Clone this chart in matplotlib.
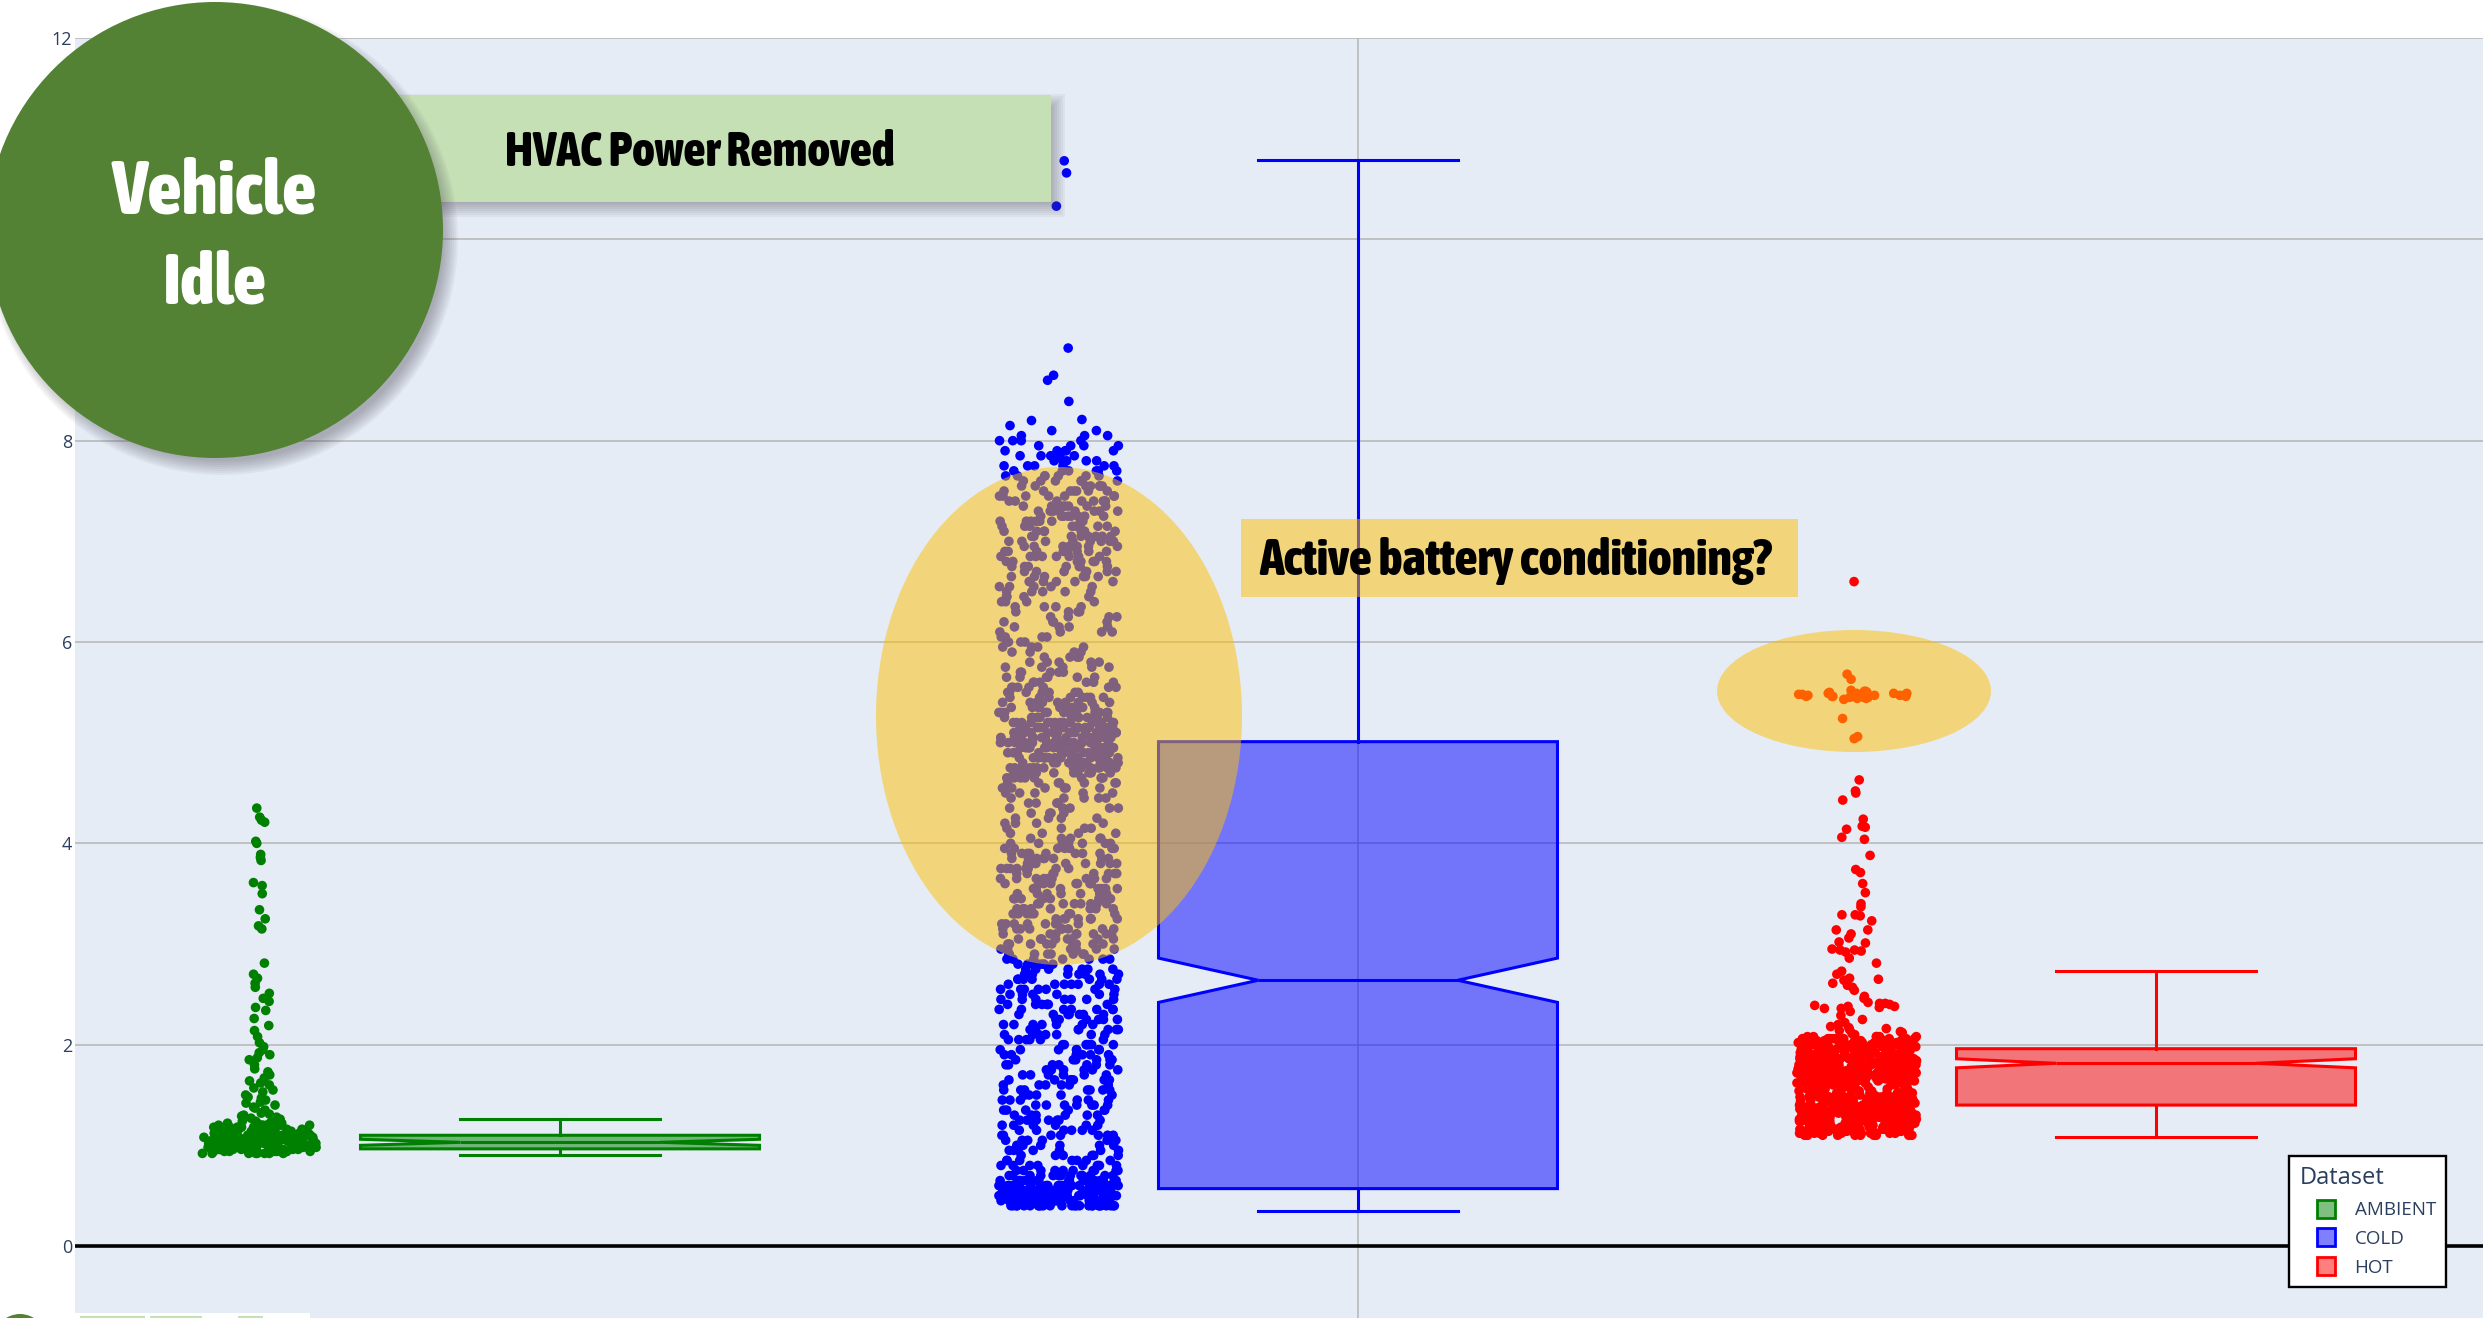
import numpy as np
import matplotlib
matplotlib.use("Agg")
import matplotlib.pyplot as plt
from matplotlib.patches import Circle, Rectangle, Ellipse, Patch
from matplotlib.legend_handler import HandlerPatch
from matplotlib import font_manager as fm
from matplotlib.font_manager import FontProperties
from matplotlib.colors import to_rgba

# ---------------- data ----------------
categories = ['AMBIENT', 'COLD', 'HOT']
box_colors = ['#008000', '#0000FF', '#FF0000']
q1 = [0.965, 0.57, 1.40]
median = [1.03, 2.64, 1.815]
q3 = [1.10, 5.01, 1.96]
whisker_low = [0.90, 0.35, 1.08]
whisker_high = [1.26, 10.79, 2.73]
notch_low = [1.00, 2.42, 1.77]
notch_high = [1.06, 2.86, 1.86]

# sparse points (individually visible)
ambient_points = [
    4.35, 4.26, 4.23, 4.21, 4.02, 4.00, 3.89, 3.86, 3.83, 3.61, 3.58, 3.50, 3.34, 3.25, 3.18, 3.15,
    2.81, 2.70, 2.66, 2.61, 2.57, 2.51, 2.46, 2.43, 2.37, 2.34, 2.26, 2.19, 2.14, 2.08, 2.02, 1.98,
    1.95, 1.92, 1.90, 1.87, 1.85, 1.80, 1.76, 1.73, 1.70, 1.67, 1.64, 1.62, 1.60, 1.57, 1.55, 1.53,
    1.50, 1.48, 1.47, 1.45, 1.43, 1.42, 1.40, 1.38, 1.37, 1.35, 1.34, 1.32, 1.31, 1.30, 1.29, 1.28,
    1.27, 1.26,
]
cold_points = [10.78, 10.66, 10.33, 8.92, 8.65, 8.60, 8.39, 8.21, 8.20, 8.15]
hot_points = [
    6.60, 5.68, 5.63, 5.52, 5.51, 5.51, 5.50, 5.50, 5.49, 5.49, 5.49, 5.48, 5.48, 5.48, 5.47, 5.47,
    5.47, 5.47, 5.46, 5.46, 5.46, 5.45, 5.45, 5.45, 5.44, 5.44, 5.43, 5.48, 5.47, 5.46, 5.49, 5.24,
    5.06, 5.04,
    4.63, 4.52, 4.50, 4.43, 4.24, 4.17, 4.16, 4.14, 4.06, 4.04, 3.88, 3.74, 3.71, 3.60, 3.51, 3.40,
    3.37, 3.29, 3.29, 3.28, 3.23, 3.14, 3.14, 3.10, 3.06, 3.02, 3.01, 2.94, 2.94, 2.92, 2.93, 2.95,
    2.86, 2.81, 2.73, 2.70, 2.66, 2.64, 2.65, 2.59, 2.61, 2.57, 2.54, 2.48, 2.46, 2.38, 2.41, 2.39,
    2.37, 2.40, 2.42, 2.41, 2.36, 2.38, 2.36, 2.33, 2.29, 2.25, 2.22, 2.20, 2.18, 2.17, 2.16, 2.15,
    2.14, 2.13, 2.12, 2.11, 2.10,
]

# dense parts: value levels and how many points sit at each level
ambient_dense_levels = [0.92, 0.94, 0.96, 0.98, 1.00, 1.02, 1.04, 1.06, 1.08, 1.10, 1.12, 1.14,
                        1.16, 1.18, 1.20, 1.22, 1.24]
ambient_dense_counts = [8, 14, 16, 16, 16, 16, 16, 16, 15, 14, 12, 10, 8, 7, 6, 5, 4]

cold_dense_levels = [
    0.40, 0.45, 0.50, 0.55, 0.60, 0.65, 0.70,
    0.75, 0.80, 0.85, 0.90, 0.95, 1.00, 1.05, 1.10, 1.15, 1.20, 1.25, 1.30, 1.35, 1.40, 1.45,
    1.50, 1.55, 1.60, 1.65, 1.70, 1.75, 1.80, 1.85, 1.90, 1.95, 2.00, 2.05, 2.10, 2.15, 2.20,
    2.25, 2.30, 2.35, 2.40, 2.45, 2.50, 2.55, 2.60, 2.65, 2.70, 2.75, 2.80, 2.85,
    2.90, 2.95, 3.00, 3.05, 3.10, 3.15, 3.20, 3.25, 3.30, 3.35, 3.40, 3.45, 3.50, 3.55, 3.60,
    3.65, 3.70, 3.75, 3.80, 3.85, 3.90, 3.95, 4.00,
    4.05, 4.10, 4.15, 4.20, 4.25, 4.30, 4.35, 4.40, 4.45, 4.50, 4.55, 4.60,
    4.65, 4.70, 4.75, 4.80, 4.85, 4.90, 4.95, 5.00, 5.05, 5.10, 5.15, 5.20, 5.25, 5.30, 5.35,
    5.40, 5.45, 5.50, 5.55, 5.60,
    5.65, 5.70, 5.75, 5.80, 5.85, 5.90, 5.95, 6.00, 6.05, 6.10, 6.15, 6.20, 6.25, 6.30, 6.35,
    6.40, 6.45, 6.50, 6.55, 6.60, 6.65,
    6.70, 6.75, 6.80, 6.85, 6.90, 6.95, 7.00, 7.05, 7.10, 7.15, 7.20, 7.25, 7.30, 7.35, 7.40,
    7.45, 7.50, 7.55, 7.60, 7.65,
    7.70, 7.75, 7.80, 7.85, 7.90, 7.95, 8.00, 8.05, 8.10,
]
cold_dense_counts = [
    26, 30, 30, 30, 28, 22, 14,
    10, 8, 7, 6, 7, 6, 6, 7, 6, 6, 7, 6, 6, 7, 6,
    6, 7, 6, 7, 6, 6, 7, 7, 6, 7, 7, 6, 7, 7, 7,
    6, 7, 7, 7, 7, 6, 7, 7, 7, 7, 7, 7, 7,
    8, 8, 9, 8, 8, 9, 8, 8, 9, 8, 8, 9, 8, 8, 8,
    9, 8, 8, 8, 8, 8, 7, 7,
    5, 4, 4, 4, 4, 4, 5, 4, 5, 5, 6, 7,
    10, 12, 14, 16, 18, 19, 20, 20, 20, 19, 18, 16, 14, 12, 10,
    9, 8, 7, 7, 6,
    6, 5, 5, 5, 4, 4, 4, 4, 4, 4, 4, 4, 4, 4, 4,
    4, 4, 5, 5, 6, 6,
    7, 7, 8, 8, 8, 8, 8, 8, 8, 8, 8, 8, 8, 8, 8,
    7, 7, 7, 7, 7,
    6, 6, 5, 5, 5, 4, 4, 3, 2,
]

hot_dense_levels = [
    1.10, 1.12, 1.14, 1.16, 1.18, 1.20, 1.22, 1.24, 1.26, 1.28, 1.30, 1.32, 1.34, 1.36, 1.38,
    1.40, 1.42, 1.44, 1.46, 1.48,
    1.50, 1.52, 1.54, 1.56, 1.58, 1.60,
    1.62, 1.64, 1.66, 1.68, 1.70, 1.72, 1.74, 1.76, 1.78, 1.80, 1.82, 1.84, 1.86, 1.88, 1.90,
    1.92, 1.94, 1.96, 1.98, 2.00, 2.02, 2.04, 2.06, 2.08,
]
hot_dense_counts = [
    10, 14, 14, 14, 14, 14, 14, 14, 14, 14, 14, 14, 14, 14, 14,
    14, 14, 14, 14, 14,
    10, 7, 6, 6, 7, 10,
    14, 14, 14, 14, 14, 14, 14, 14, 14, 14, 14, 14, 14, 14, 14,
    14, 14, 14, 14, 14, 14, 12, 10, 6,
]

y_ticks = [0, 2, 4, 6, 8, 10, 12]
legend_title = 'Dataset'
circle_lines = ['Vehicle', 'Idle']
hvac_label = 'HVAC Power Removed'
battery_label = 'Active battery conditioning?'

# ---------------- fonts ----------------
W, H, DPI = 2483, 1318, 100
avail = {f.name for f in fm.fontManager.ttflist}
UIF = 'Open Sans' if 'Open Sans' in avail else 'DejaVu Sans'
plt.rcParams['font.family'] = [UIF, 'DejaVu Sans']


def _wnum(w):
    if isinstance(w, (int, float)):
        return float(w)
    return float(fm.weight_dict.get(str(w).lower(), 400))


def _snum(s, name):
    if isinstance(s, (int, float)):
        v = float(s)
    else:
        v = float(fm.stretch_dict.get(str(s).lower(), 500))
    low = name.lower()
    if 'narrow' in low:
        v = min(v, 350)
    if 'condensed' in low or ' cond' in low:
        v = min(v, 300)
    return v


def pick_heading_font():
    best, best_score = None, None
    for f in fm.fontManager.ttflist:
        if not f.fname.lower().endswith(('.ttf', '.otf')):
            continue
        st = _snum(f.stretch, f.name + ' ' + f.fname.split('/')[-1])
        wt = _wnum(f.weight)
        if st >= 450 or wt < 600 or 'italic' in str(f.style).lower() or 'oblique' in str(f.style).lower():
            continue
        if 'mono' in f.name.lower() or 'serif' in f.name.lower() and 'sans' not in f.name.lower():
            continue
        score = -abs(wt - 760) - 0.6 * abs(st - 300)
        if best_score is None or score > best_score:
            best, best_score = f, score
    if best is not None:
        return FontProperties(fname=best.fname)
    for fam in ['Liberation Sans', 'Roboto', 'Inter', 'DejaVu Sans']:
        if fam in avail:
            return FontProperties(family=fam, weight='bold')
    return FontProperties(weight='bold')


HEAD_FP = pick_heading_font()

BG = '#E5ECF6'
GRID = '#b4b4b4'
TICKC = '#2a3f5f'
POSITIONS = [-1.0, 0.0, 1.0]
BOX_W = 0.5
HALF_W = BOX_W / 2
POINTPOS = -1.5
JITTER = 0.3
LW = 2.2
PX_PER_X = 798.0
X_CENTER_PX = 1358.0
AX_LEFT_PX, AX_TOP_PX = 75.0, 38.0
Y0_PX, PX_PER_Y = 1246.0, 100.67

fig = plt.figure(figsize=(W / DPI, H / DPI), dpi=DPI)
fig.patch.set_facecolor('white')
ax = fig.add_axes([AX_LEFT_PX / W, 0.0, 1 - AX_LEFT_PX / W, 1 - AX_TOP_PX / H])
ax.set_facecolor(BG)
for s in ax.spines.values():
    s.set_visible(False)
ax.set_xlim((AX_LEFT_PX - X_CENTER_PX) / PX_PER_X, (W - X_CENTER_PX) / PX_PER_X)
ax.set_ylim(-(H - Y0_PX) / PX_PER_Y, (Y0_PX - AX_TOP_PX) / PX_PER_Y)
ax.set_yticks(y_ticks)
ax.set_yticklabels([str(t) for t in y_ticks])
ax.set_xticks([0.0])
ax.set_xticklabels([''])
ax.tick_params(axis='both', length=0)
ax.tick_params(axis='y', labelsize=13, labelcolor=TICKC, pad=2)
ax.set_axisbelow(True)
ax.grid(True, color=GRID, linewidth=1.1)
ax.axhline(0, color='black', linewidth=2.6, zorder=1.5)

# boxes
stats = []
for i, cat in enumerate(categories):
    stats.append(dict(label=cat, med=median[i], q1=q1[i], q3=q3[i],
                      whislo=whisker_low[i], whishi=whisker_high[i],
                      cilo=notch_low[i], cihi=notch_high[i], fliers=[]))
bp = ax.bxp(stats, positions=POSITIONS, widths=BOX_W, shownotches=True,
            patch_artist=True, showfliers=False, manage_ticks=False, zorder=2)
for i, c in enumerate(box_colors):
    bp['boxes'][i].set(facecolor=to_rgba(c, 0.5), edgecolor=c, linewidth=LW, joinstyle='miter')
    bp['medians'][i].set(color=c, linewidth=LW)
    for k in (2 * i, 2 * i + 1):
        bp['whiskers'][k].set(color=c, linewidth=LW)
        bp['caps'][k].set(color=c, linewidth=LW)


def hash_seq(n, salt):
    idx = np.arange(n, dtype=float) + 1.0 + salt
    return np.abs(np.sin(idx * 12.9898 + 78.233) * 43758.5453) % 1.0


def pick_salt(base, windows):
    """deterministic jitter seed whose first values fall in the given windows"""
    for k in range(20000):
        u = hash_seq(len(windows), base + k)
        if all(lo <= uu <= hi for uu, (lo, hi) in zip(u, windows)):
            return base + k
    return base


def jitter_positions(vals, pos, lo, hi, salt):
    """plotly-style density-scaled jitter, with a deterministic hash sequence."""
    v = np.asarray(vals, float)
    order = np.argsort(v, kind='stable')
    sv = v[order]
    n = len(sv)
    min_spread = (hi - lo) * 0.01
    fac = np.zeros(n)
    for i in range(n):
        a = max(0, i - 5)
        b = min(n - 1, i + 5)
        spread = sv[b] - sv[a]
        fac[i] = min(1.0, np.sqrt(min_spread * (b - a) / (spread + 0.05 * min_spread)))
    fac /= fac.max()
    factors = np.empty(n)
    factors[order] = fac
    u = hash_seq(n, salt)
    return pos + HALF_W * (POINTPOS + 2 * JITTER * factors * (u - 0.5))


salts = [
    0.0,
    pick_salt(17.0, [(0.52, 0.65), (0.62, 0.85), (0.36, 0.47)]),
    pick_salt(34.0, [(0.15, 0.38)]),
]

groups = [
    (ambient_points, ambient_dense_levels, ambient_dense_counts),
    (cold_points, cold_dense_levels, cold_dense_counts),
    (hot_points, hot_dense_levels, hot_dense_counts),
]
for i, (sparse, lv, cnt) in enumerate(groups):
    ys = np.concatenate([np.asarray(sparse, float), np.repeat(np.asarray(lv, float), cnt)])
    xs = jitter_positions(ys, POSITIONS[i], q1[i], q3[i], salt=salts[i])
    ax.scatter(xs, ys, s=48, color=box_colors[i], edgecolors='none', zorder=3)


# legend
class SquareHandler(HandlerPatch):
    def _create_patch(self, legend, orig_handle, xdescent, ydescent, width, height, fontsize):
        s = height
        return Rectangle((-xdescent + width - s, -ydescent), s, s)


handles = [Patch(facecolor=to_rgba(c, 0.5), edgecolor=c, linewidth=2.0, label=cat)
           for c, cat in zip(box_colors, categories)]
leg = ax.legend(handles=handles, title=legend_title, loc='upper left',
                bbox_to_anchor=(2289 / W, 1 - 1156 / H), bbox_transform=fig.transFigure,
                borderaxespad=0, frameon=True, fancybox=False, framealpha=1,
                edgecolor='black', facecolor='white',
                prop={'family': [UIF, 'DejaVu Sans'], 'size': 13.5},
                title_fontproperties={'family': [UIF, 'DejaVu Sans'], 'size': 17},
                handlelength=1.9, handleheight=1.1, handletextpad=1.05,
                labelspacing=0.5, borderpad=0.55, alignment='left',
                handler_map={Patch: SquareHandler()})
leg.get_frame().set_linewidth(1.7)
leg.get_title().set_color(TICKC)
for t in leg.get_texts():
    t.set_color(TICKC)
leg.set_zorder(6)

# ---------------- slide overlays (pixel coordinates) ----------------
ov = fig.add_axes([0, 0, 1, 1])
ov.set_xlim(0, W)
ov.set_ylim(H, 0)
ov.axis('off')
ov.set_zorder(5)
ov.patch.set_alpha(0)

GOLD = '#FFC000'
ov.add_patch(Ellipse((1059, 716), 366, 498, color=GOLD, alpha=0.5, lw=0, zorder=1))
ov.add_patch(Ellipse((1854, 691), 274, 122, color=GOLD, alpha=0.5, lw=0, zorder=1))

ov.add_patch(Rectangle((1241, 519), 557, 78, color=GOLD, alpha=0.5, lw=0, zorder=2))

for k in range(8):
    e = 8 - 2 * k
    ov.add_patch(Rectangle((300 + 6 - e, 95 + 7 - e), 751 + 2 * e, 107 + 2 * e,
                           color='#50505a', alpha=0.06, lw=0, zorder=3))
ov.add_patch(Rectangle((300, 95), 751, 107, color='#C5E0B4', lw=0, zorder=4))

for k in range(8):
    ov.add_patch(Circle((215 + 7, 230 + 9), 236 - 2 * k, color='#50505a', alpha=0.06, lw=0, zorder=6))
ov.add_patch(Circle((215, 230), 228, color='#548235', lw=0, zorder=7))

ov.add_patch(Rectangle((0, 1313), 310, 10, color='white', lw=0, zorder=6))
ov.add_patch(Circle((20, 1340), 26, color='#548235', lw=0, zorder=7))
for x0, x1 in [(80, 145), (150, 202), (238, 263)]:
    ov.add_patch(Rectangle((x0, 1315.5), x1 - x0, 5, color='#C5E0B4', lw=0, zorder=7))

# heading texts: (text, x, baseline y, align, size from cap height, target width px, colour, z)
heading_specs = [
    (battery_label, 1259, 575, 'left', 32.5, 512, 'black', 3),
    (hvac_label, 505, 166, 'left', 31.5, 390, 'black', 5),
    (circle_lines[0], 214, 213, 'center', 50.5, 205, 'white', 8),
    (circle_lines[1], 215, 303, 'center', 50.5, 104, 'white', 8),
]
texts = []
for txt, x, y, ha, size, target, col, z in heading_specs:
    fp = HEAD_FP.copy()
    fp.set_size(size)
    t = ov.text(x, y, txt, ha=ha, va='baseline', color=col, fontproperties=fp, zorder=z)
    texts.append((t, size, target))

fig.canvas.draw()
renderer = fig.canvas.get_renderer()
for t, size, target in texts:
    w = t.get_window_extent(renderer=renderer).width
    if w > 0:
        t.set_fontsize(min(size * target / w, size * 1.12))

fig.savefig('out.png', dpi=DPI)
